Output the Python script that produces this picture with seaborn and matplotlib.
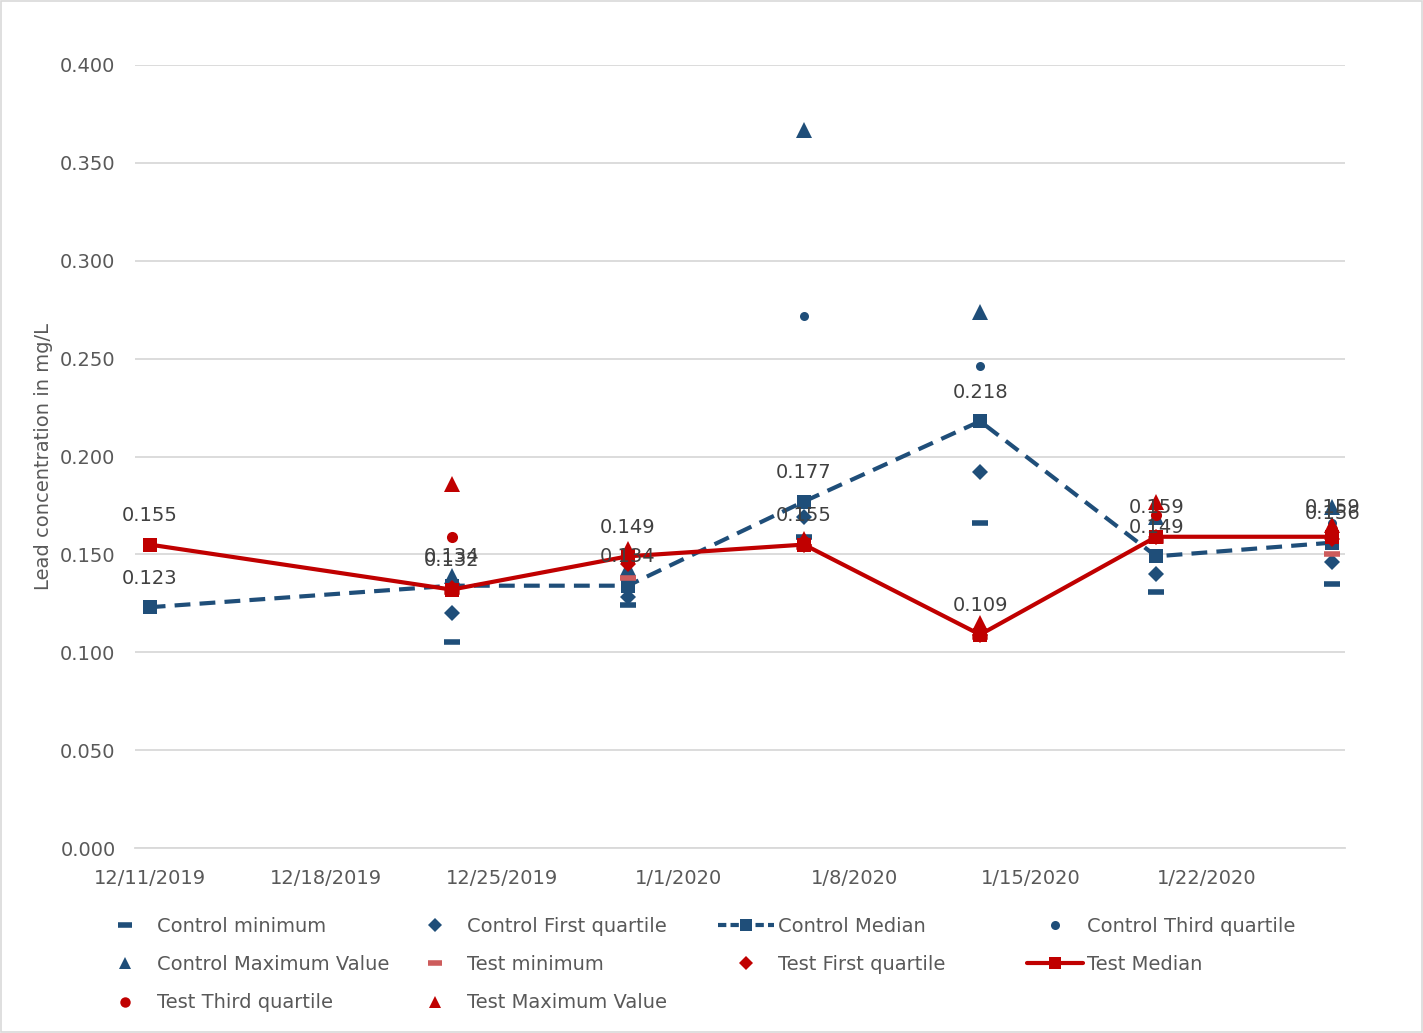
import matplotlib
matplotlib.use("Agg")
import matplotlib.pyplot as plt
from matplotlib.lines import Line2D
from matplotlib.patches import Rectangle
import seaborn as sns
import pandas as pd

sns.set_theme(style="white")
plt.rcParams['font.family'] = ['DejaVu Sans']

# ---- data ----
median_dates = ["2019-12-11", "2019-12-23", "2019-12-30", "2020-01-06", "2020-01-13", "2020-01-20", "2020-01-27"]
stat_dates = ["2019-12-23", "2019-12-30", "2020-01-06", "2020-01-13", "2020-01-20", "2020-01-27"]

control_min = [0.105, 0.124, 0.159, 0.166, 0.131, 0.135]
control_q1 = [0.120, 0.128, 0.169, 0.192, 0.140, 0.146]
control_median = [0.123, 0.134, 0.134, 0.177, 0.218, 0.149, 0.156]
control_q3 = [0.136, 0.138, 0.272, 0.246, 0.160, 0.166]
control_max = [0.139, 0.143, 0.367, 0.274, 0.169, 0.174]

test_min = [0.131, 0.138, 0.154, 0.108, 0.157, 0.150]
test_q1 = [0.133, 0.145, 0.155, 0.109, 0.159, 0.158]
test_median = [0.155, 0.132, 0.149, 0.155, 0.109, 0.159, 0.159]
test_q3 = [0.159, 0.150, 0.157, 0.112, 0.170, 0.163]
test_max = [0.186, 0.153, 0.158, 0.115, 0.177, 0.165]

tick_dates = ["2019-12-11", "2019-12-18", "2019-12-25", "2020-01-01", "2020-01-08", "2020-01-15", "2020-01-22"]
tick_labels = ["12/11/2019", "12/18/2019", "12/25/2019", "1/1/2020", "1/8/2020", "1/15/2020", "1/22/2020"]
y_ticks = [0.0, 0.05, 0.10, 0.15, 0.20, 0.25, 0.30, 0.35, 0.40]

BLUE = "#1F4E79"
RED = "#C00000"
LRED = "#CD5C5C"
TXT = "#595959"

md = pd.to_datetime(median_dates)
sd = pd.to_datetime(stat_dates)

fig = plt.figure(figsize=(14.23, 10.33), dpi=100)
ax = fig.add_axes([135/1423, 1-848/1033, 1210/1423, 783/1033])

def markers(y, color, marker, ms, mew=0, z=3):
    sns.lineplot(x=sd, y=y, ax=ax, color=color, marker=marker, markersize=ms,
                 linestyle="", markeredgewidth=mew, markeredgecolor=color, zorder=z)

# control series
markers(control_min, BLUE, "_", 12, mew=4)
markers(control_q1, BLUE, "D", 8.5)
sns.lineplot(x=md, y=control_median, ax=ax, color=BLUE, marker="s", markersize=9.5,
             markeredgewidth=0, linewidth=3, linestyle=(0, (3.8, 2.2)), zorder=3)
markers(control_q3, BLUE, "o", 6.5)
markers(control_max, BLUE, "^", 11)

# test series
markers(test_min, LRED, "_", 12, mew=4, z=4)
markers(test_q1, RED, "D", 8.5, z=4)
sns.lineplot(x=md, y=test_median, ax=ax, color=RED, marker="s", markersize=9.5,
             markeredgewidth=0, linewidth=3, zorder=4)
markers(test_q3, RED, "o", 8, z=4)
markers(test_max, RED, "^", 11, z=4)

# data labels
for d, v in zip(md, control_median):
    ax.annotate(f"{v:.3f}", (d, v), xytext=(0, 14), textcoords="offset points",
                ha="center", va="bottom", fontsize=14, color="#404040", zorder=6)
for d, v in zip(md, test_median):
    ax.annotate(f"{v:.3f}", (d, v), xytext=(0, 14), textcoords="offset points",
                ha="center", va="bottom", fontsize=14, color="#404040", zorder=6)

# axes styling
x0 = pd.Timestamp("2019-12-11") - pd.Timedelta(hours=14)
x1 = pd.Timestamp("2020-01-27") + pd.Timedelta(hours=12)
ax.set_xlim(x0, x1)
ax.set_ylim(0, 0.4)
ax.set_yticks(y_ticks)
ax.set_yticklabels([f"{v:.3f}" for v in y_ticks])
ax.set_xticks(pd.to_datetime(tick_dates))
ax.set_xticklabels(tick_labels)
ax.tick_params(axis="both", length=0, labelsize=14, labelcolor=TXT)
ax.tick_params(axis="x", pad=15)
ax.tick_params(axis="y", pad=14)
ax.grid(axis="y", color="#D9D9D9", linewidth=1.3)
ax.set_axisbelow(True)
for s in ["top", "right", "left"]:
    ax.spines[s].set_visible(False)
ax.spines["bottom"].set_color("#D9D9D9")
ax.spines["bottom"].set_linewidth(1.3)
ax.set_xlabel("")
ax.set_ylabel("Lead concentration in mg/L", fontsize=14, color=TXT, labelpad=5)

# legend: 4 equal-width columns
def mk(color, marker, ms, ls="", lw=0, mew=0, mec=None):
    return Line2D([], [], color=color, marker=marker, markersize=ms, linestyle=ls,
                  linewidth=lw, markeredgewidth=mew, markeredgecolor=mec or color)

h = {
    "Control minimum": mk(BLUE, "_", 10, mew=4),
    "Control First quartile": mk(BLUE, "D", 7),
    "Control Median": mk(BLUE, "s", 8.5, ls=(0, (2, 1)), lw=3),
    "Control Third quartile": mk(BLUE, "o", 6.5),
    "Control Maximum Value": mk(BLUE, "^", 9),
    "Test minimum": mk(LRED, "_", 10, mew=4),
    "Test First quartile": mk(RED, "D", 7),
    "Test Median": mk(RED, "s", 8.5, ls="-", lw=3),
    "Test Third quartile": mk(RED, "o", 7.5),
    "Test Maximum Value": mk(RED, "^", 9),
}
columns = [
    ["Control minimum", "Control Maximum Value", "Test Third quartile"],
    ["Control First quartile", "Test minimum", "Test Maximum Value"],
    ["Control Median", "Test First quartile"],
    ["Control Third quartile", "Test Median"],
]
col_x = [97, 407, 718, 1027]
for cx, col in zip(col_x, columns):
    fig.legend([h[k] for k in col], col, loc="upper left",
               bbox_to_anchor=(cx/1423, 1-917/1033), frameon=False,
               fontsize=14, labelcolor=TXT, handlelength=2.9, handletextpad=0.2,
               borderpad=0, borderaxespad=0, labelspacing=0.99)

fig.patches.append(Rectangle((0.001, 0.001), 0.998, 0.998, transform=fig.transFigure,
                             fill=False, edgecolor="#D9D9D9", linewidth=1.2))

fig.savefig("out.png", dpi=100, facecolor="white")
